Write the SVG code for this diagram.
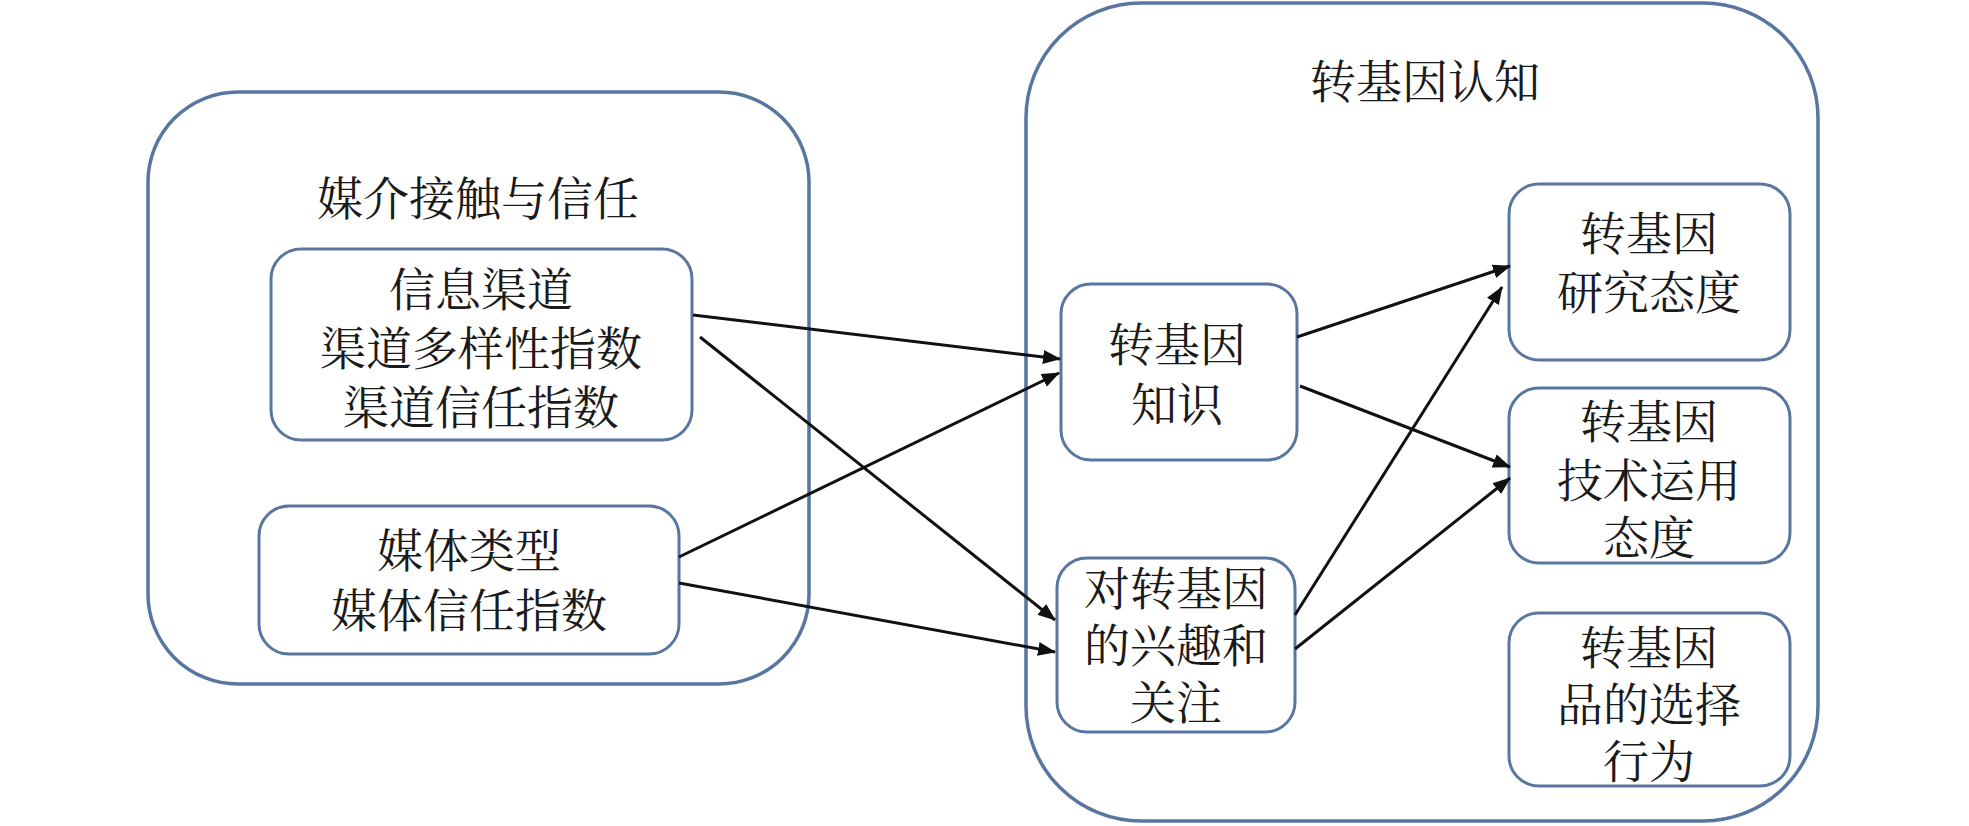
<svg xmlns="http://www.w3.org/2000/svg" width="1969" height="826" viewBox="0 0 1969 826">
<style>
.c{fill:#fff;stroke:#5876a0;stroke-width:3.5}
.b{fill:#fff;stroke:#5876a0;stroke-width:3}
.t{font-family:"Noto Serif CJK SC","Noto Sans CJK SC",serif;font-size:46px;fill:#1a1a1a;text-anchor:middle;dominant-baseline:central}
.a{stroke:#111;stroke-width:3;fill:none;marker-end:url(#ah)}
</style>
<defs>
<marker id="ah" viewBox="0 0 18 14" refX="17" refY="7" markerWidth="18" markerHeight="14" markerUnits="userSpaceOnUse" orient="auto">
<path d="M0,0 L18,7 L0,14 Z" fill="#111"/>
</marker>
</defs>
<rect width="1969" height="826" fill="#fff"/>
<g id="media-container">
<rect class="c" x="148" y="92" width="661" height="592" rx="90" ry="90"/>
<text class="t" x="478" y="195">媒介接触与信任</text>
</g>
<g id="gm-container">
<rect class="c" x="1026" y="3" width="792" height="818" rx="115" ry="115"/>
<text class="t" x="1425" y="78">转基因认知</text>
</g>
<g id="info-channel">
<rect class="b" x="271" y="249" width="421" height="191" rx="30" ry="30"/>
<text class="t" x="481" y="286">信息渠道</text>
<text class="t" x="481" y="345">渠道多样性指数</text>
<text class="t" x="481" y="404">渠道信任指数</text>
</g>
<g id="media-type">
<rect class="b" x="259" y="506" width="420" height="148" rx="30" ry="30"/>
<text class="t" x="469" y="547">媒体类型</text>
<text class="t" x="469" y="607">媒体信任指数</text>
</g>
<g id="gm-knowledge">
<rect class="b" x="1061" y="284" width="236" height="176" rx="30" ry="30"/>
<text class="t" x="1177" y="341">转基因</text>
<text class="t" x="1177" y="401">知识</text>
</g>
<g id="gm-interest">
<rect class="b" x="1057" y="558" width="238" height="174" rx="30" ry="30"/>
<text class="t" x="1176" y="585">对转基因</text>
<text class="t" x="1176" y="642">的兴趣和</text>
<text class="t" x="1176" y="699">关注</text>
</g>
<g id="gm-research-attitude">
<rect class="b" x="1509" y="184" width="281" height="176" rx="30" ry="30"/>
<text class="t" x="1649" y="230">转基因</text>
<text class="t" x="1649" y="289">研究态度</text>
</g>
<g id="gm-tech-attitude">
<rect class="b" x="1509" y="388" width="281" height="175" rx="30" ry="30"/>
<text class="t" x="1649" y="418">转基因</text>
<text class="t" x="1649" y="477">技术运用</text>
<text class="t" x="1649" y="534">态度</text>
</g>
<g id="gm-product-choice">
<rect class="b" x="1509" y="613" width="281" height="173" rx="30" ry="30"/>
<text class="t" x="1649" y="644">转基因</text>
<text class="t" x="1649" y="701">品的选择</text>
<text class="t" x="1649" y="758">行为</text>
</g>
<g id="connectors">
<line class="a" x1="693" y1="315" x2="1060" y2="359"/>
<line class="a" x1="700" y1="337" x2="1055" y2="620"/>
<line class="a" x1="679" y1="557" x2="1059" y2="373"/>
<line class="a" x1="679" y1="583" x2="1055" y2="652"/>
<line class="a" x1="1297" y1="337" x2="1510" y2="266"/>
<line class="a" x1="1300" y1="386" x2="1510" y2="467"/>
<line class="a" x1="1295" y1="615" x2="1502" y2="287"/>
<line class="a" x1="1295" y1="649" x2="1510" y2="478"/>
</g>
</svg>
